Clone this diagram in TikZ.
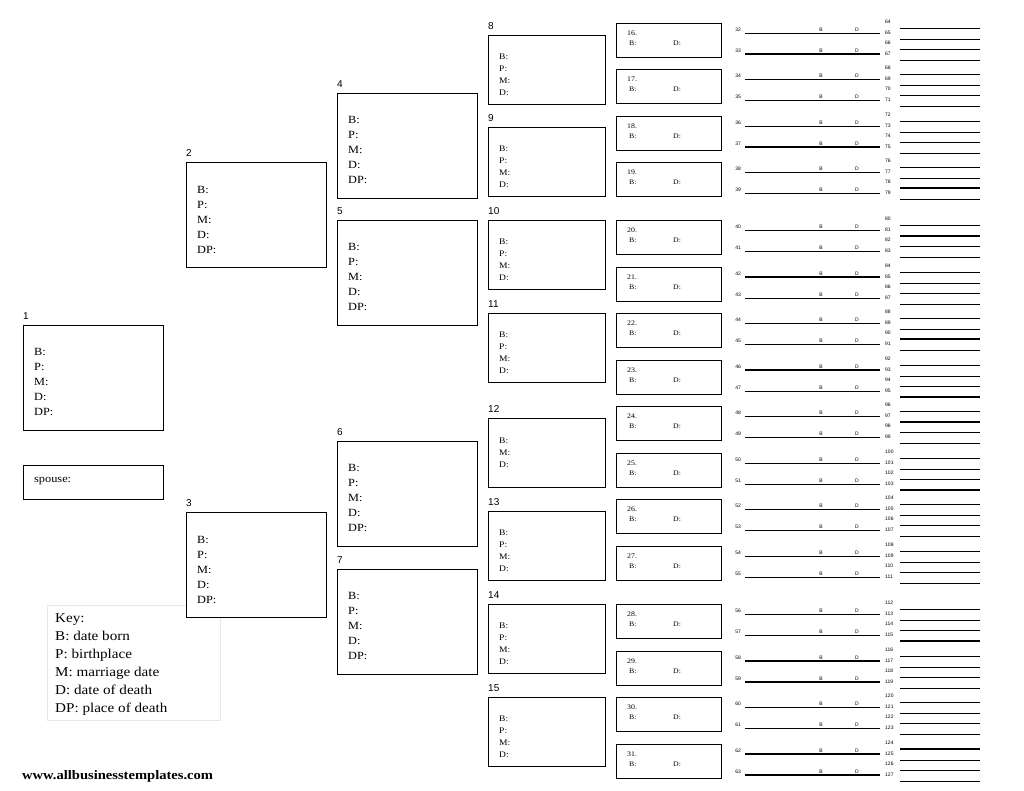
\documentclass[tikz,border=0pt]{standalone}
\usepackage{fontspec}
\setmainfont[FakeStretch=1.12]{Liberation Serif}
\newfontfamily\numfont{Liberation Sans}
\usetikzlibrary{positioning}

\begin{document}
\begin{tikzpicture}
  [
    x=1pt, y=-1pt,
    Box/.style={rectangle, draw=black, fill=white, line width=1.3pt, anchor=north west, inner sep=0pt},
    Big/.style={Box, minimum width=140pt, minimum height=105pt},
    Mid/.style={Box, minimum width=117pt, minimum height=69pt},
    Small/.style={Box, minimum width=105pt, minimum height=34pt},
    Num/.style={anchor=south west, inner sep=0pt, yshift=5pt, font=\numfont\fontsize{10}{10}\selectfont},
    BigText/.style={anchor=north west, inner sep=0pt, align=left, font=\fontsize{11}{15}\selectfont},
    MidText/.style={BigText, font=\fontsize{8.5}{12}\selectfont},
    SmallText/.style={anchor=north west, inner sep=0pt, font=\fontsize{7}{7}\selectfont},
    KeyText/.style={BigText, font=\fontsize{13.5}{18}\selectfont},
    Tiny/.style={anchor=south, inner sep=0pt, font=\numfont\fontsize{5}{5}\selectfont},
    Blank/.style={line width=0.8pt},
    Heavy/.style={line width=2.4pt}
  ]
  \useasboundingbox (0,0) rectangle (1024,791);

  % Key (behind box 3)
  \node[draw=gray!18, line width=0.6pt, anchor=north west, minimum width=173pt, minimum height=115pt] (key) at (47,605) {};
  \node[KeyText, below right=8.5pt and 8pt of key.north west] (kt)
    {Key:\\B: date born\\P: birthplace\\M: marriage date\\D: date of death\\DP: place of death};

  % Generation 1
  \node[Big, label={[Num]north west:1}] (p1) at (23,325) {};
  \node[BigText, below right=23.5pt and 11pt of p1.north west] (t1) {B:\\P:\\M:\\D:\\DP:};
  \node[Box, minimum width=140pt, minimum height=34pt] (sp) at (23,465) {};
  \node[BigText, anchor=west] (spt) at (34,481) {spouse:};

  % Generation 2
  \node[Big, label={[Num]north west:2}] (p2) at (186,162) {};
  \node[BigText, below right=24pt and 11pt of p2.north west] (t2) {B:\\P:\\M:\\D:\\DP:};
  \node[Big, label={[Num]north west:3}] (p3) at (186,512) {};
  \node[BigText, below right=24pt and 11pt of p3.north west] (t3) {B:\\P:\\M:\\D:\\DP:};

  % Generation 3
  \foreach \n/\t in {4/93, 5/220, 6/441, 7/569} {
    \node[Big, label={[Num]north west:\n}] (p\n) at (337,\t) {};
    \node[BigText, below right=23.5pt and 11pt of p\n.north west] (t\n) {B:\\P:\\M:\\D:\\DP:};
  }

  % Generation 4
  \foreach \n/\t in {8/35, 9/127, 10/220, 11/313, 13/511, 14/604, 15/697} {
    \node[Mid, label={[Num]north west:\n}] (p\n) at (488,\t) {};
    \node[MidText, below right=19pt and 11pt of p\n.north west] (t\n) {B:\\P:\\M:\\D:};
  }
  \node[Mid, label={[Num]north west:12}] (p12) at (488,418) {};
  \node[MidText, below right=20pt and 11pt of p12.north west] (t12) {B:\\M:\\D:};

  % Generation 5, 6 and 7
  \foreach \n/\t in {16/23, 17/69, 18/116, 19/162, 20/220, 21/267, 22/313, 23/360,
                     24/406, 25/453, 26/499, 27/546, 28/604, 29/651, 30/697, 31/744} {
    \node[Small] (p\n) at (616,\t) {};
    \node[SmallText, below right=7.5pt and 11pt of p\n.north west] (n\n) {\n.};
    \node[SmallText, below right=18pt and 13pt of p\n.north west] (b\n) {B:};
    \node[SmallText, below right=18pt and 57pt of p\n.north west] (d\n) {D:};
    \foreach \k/\dy in {0/10, 1/31} {
      \pgfmathtruncatemacro\g{2*\n+\k}
      \pgfmathsetmacro\ly{\t+\dy}
      \coordinate (s\g) at (745,\ly);
      \coordinate (e\g) at (880,\ly);
      \draw[Blank] (s\g) -- (e\g);
      \node[Tiny, anchor=south east] (g\g) at (741,\ly-1) {\g};
      \node[Tiny] (gb\g) at (821,\ly-1.5) {B};
      \node[Tiny] (gd\g) at (857,\ly-1.5) {D};
      \foreach \j in {0,1} {
        \pgfmathtruncatemacro\m{2*\g+\j}
        \pgfmathsetmacro\ry{\ly-5+11*\j}
        \coordinate (r\m) at (900,\ry);
        \coordinate (q\m) at (980,\ry);
        \draw[Blank] (r\m) -- (q\m);
        \node[Tiny, anchor=south west] (h\m) at (885,\ry-4) {\m};
      }
    }
  }
  % Heavy lines
  \foreach \g in {33,37,42,46,58,59,62,63} \draw[Heavy] (s\g) -- (e\g);
  \foreach \m in {78,81,90,95,97,103,115,124} \draw[Heavy] (r\m) -- (q\m);

  \node[anchor=west, inner sep=0pt, font=\bfseries\fontsize{13}{13}\selectfont] (web) at (22,776)
    {www.allbusinesstemplates.com};
\end{tikzpicture}
\end{document}
